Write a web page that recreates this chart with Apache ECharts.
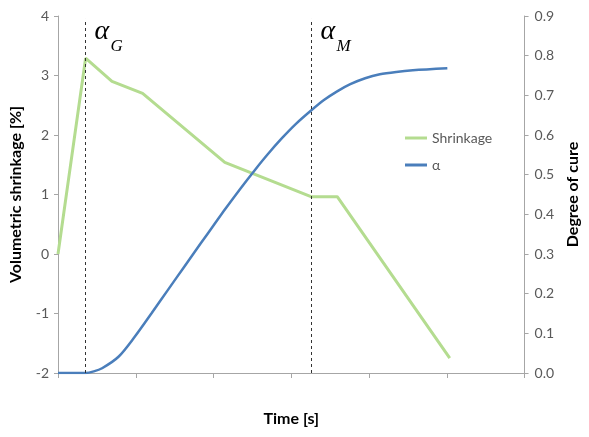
<!DOCTYPE html>
<html>
<head>
<meta charset="utf-8">
<script src="https://cdn.jsdelivr.net/npm/echarts@6/dist/echarts.min.js"></script>
<style>
html,body{margin:0;padding:0;background:#fff;}
#chart{width:589px;height:437px;}
</style>
</head>
<body>
<div id="chart"></div>
<script>
// ---- data ----
const shrinkTime  = [0, 0.355, 0.694, 1.088, 2.145, 3.253, 3.591, 5.038];
const shrinkValue = [0, 3.29, 2.90, 2.70, 1.54, 0.963, 0.963, -1.75];

const cureTime  = [0, 0.355, 0.46, 0.567, 0.778, 0.989, 1.201, 1.412, 1.624, 1.836, 2.004, 2.153, 2.35, 2.533, 2.70, 2.871, 3.06, 3.251, 3.42, 3.59, 3.759, 3.95, 4.139, 4.35, 4.563, 5.007];
const cureValue = [0, 0, 0.004, 0.012, 0.041, 0.092, 0.150, 0.209, 0.268, 0.327, 0.373, 0.414, 0.466, 0.512, 0.552, 0.590, 0.628, 0.661, 0.688, 0.710, 0.728, 0.743, 0.753, 0.759, 0.763, 0.768];

const markerTimes = [0.355, 3.26];
const markerSubs  = ['G', 'M'];

const seriesNames = ['Shrinkage', 'α'];
const xTitle = 'Time [s]';
const yLeftTitle = 'Volumetric shrinkage [%]';
const yRightTitle = 'Degree of cure';

const xRange = [0, 6, 1];
const yLeftRange = [-2, 4, 1];
const yRightRange = [0, 0.9, 0.1];

// ---- build ----
const zip = (a, b) => a.map((v, i) => [v, b[i]]);
const axisGray = '#a6a6a6';
const labelColor = '#595959';
const font = 'Lato, "Open Sans", sans-serif';

const markLines = markerTimes.map(t => [{coord: [t, yLeftRange[0]]}, {coord: [t, 3.95]}]);
const markPoints = [];
markerTimes.forEach((t, i) => {
  markPoints.push({
    coord: [t, yLeftRange[1]], symbolSize: 0,
    label: {show: true, formatter: 'α', position: [9, 16], align: 'left', verticalAlign: 'middle',
      fontFamily: '"Liberation Serif", serif', fontStyle: 'italic', fontSize: 28, color: '#000'}
  });
  markPoints.push({
    coord: [t, yLeftRange[1]], symbolSize: 0,
    label: {show: true, formatter: markerSubs[i], position: [25, 31], align: 'left', verticalAlign: 'middle',
      fontFamily: '"Liberation Serif", serif', fontStyle: 'italic', fontSize: 17, color: '#000'}
  });
});

const chart = echarts.init(document.getElementById('chart'), null, {renderer: 'canvas'});
chart.setOption({
  animation: false,
  backgroundColor: '#fff',
  grid: {left: 57, right: 59, top: 16, bottom: 64, containLabel: false},
  legend: {
    orient: 'vertical', left: 400, top: 126, itemWidth: 22, itemHeight: 3, itemGap: 13,
    icon: 'rect',
    textStyle: {fontFamily: font, fontSize: 14, color: labelColor},
    data: seriesNames
  },
  xAxis: {
    type: 'value', min: xRange[0], max: xRange[1], interval: xRange[2],
    name: xTitle, nameLocation: 'middle', nameGap: 38,
    nameTextStyle: {fontFamily: font, fontSize: 16, fontWeight: 'bold', color: '#000'},
    axisLine: {show: true, onZero: false, lineStyle: {color: axisGray}},
    axisTick: {show: true, length: 5, lineStyle: {color: axisGray}},
    axisLabel: {show: false},
    splitLine: {show: false}
  },
  yAxis: [{
    type: 'value', position: 'left', min: yLeftRange[0], max: yLeftRange[1], interval: yLeftRange[2],
    name: yLeftTitle, nameLocation: 'middle', nameGap: 34, nameRotate: 90,
    nameTextStyle: {fontFamily: font, fontSize: 16, fontWeight: 'bold', color: '#000'},
    axisLine: {show: true, lineStyle: {color: axisGray}},
    axisTick: {show: true, length: 4, lineStyle: {color: axisGray}},
    axisLabel: {fontFamily: font, fontSize: 14, color: labelColor, margin: 9},
    splitLine: {show: false}
  }, {
    type: 'value', position: 'right', min: yRightRange[0], max: yRightRange[1], interval: yRightRange[2],
    name: yRightTitle, nameLocation: 'middle', nameGap: 40, nameRotate: 90,
    nameTextStyle: {fontFamily: font, fontSize: 16, fontWeight: 'bold', color: '#000'},
    axisLine: {show: true, lineStyle: {color: axisGray}},
    axisTick: {show: true, length: 4, lineStyle: {color: axisGray}},
    axisLabel: {fontFamily: font, fontSize: 14, color: labelColor, margin: 10, formatter: v => v.toFixed(1)},
    splitLine: {show: false}
  }],
  series: [{
    name: seriesNames[0], type: 'line', yAxisIndex: 0,
    data: zip(shrinkTime, shrinkValue),
    showSymbol: false, symbol: 'none',
    lineStyle: {color: '#b4dc90', width: 3},
    itemStyle: {color: '#b4dc90'},
    z: 3,
    markLine: {
      silent: true, symbol: ['none', 'none'], label: {show: false},
      lineStyle: {type: [3, 3], color: '#333', width: 1},
      data: markLines
    },
    markPoint: {silent: true, symbol: 'circle', symbolSize: 0, data: markPoints}
  }, {
    name: seriesNames[1], type: 'line', yAxisIndex: 1,
    data: zip(cureTime, cureValue),
    showSymbol: false, symbol: 'none',
    smooth: 0.3,
    lineStyle: {color: '#4a7ebb', width: 2.5},
    itemStyle: {color: '#4a7ebb'},
    z: 4
  }]
});
</script>
</body>
</html>
